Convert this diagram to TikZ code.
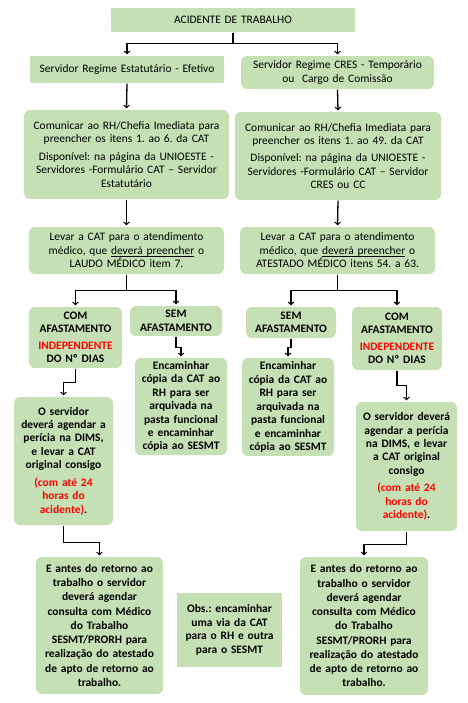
\documentclass[tikz,border=0pt]{standalone}
\usepackage{fontspec}
\setmainfont{Carlito}
\usetikzlibrary{arrows}
\definecolor{verde}{HTML}{C5E0B4}
\definecolor{vermelho}{HTML}{FF0000}
\frenchspacing
\newcommand\sublinha[1]{\setbox0\hbox{#1}\rlap{\rule[-1.8bp]{\wd0}{0.7bp}}\box0\relax}

\begin{document}
\begin{tikzpicture}[x=1bp, y=-1bp, >=to, line width=1.3bp, shorten >=1pt,
    caixa/.style={fill=verde, rounded corners=6bp, align=center, inner sep=2bp,
      font=\fontsize{11.5}{13.5}\selectfont},
    reta/.style={caixa, rounded corners=1bp},
    negrito/.style={caixa, font=\fontsize{11.5}{13.5}\selectfont\bfseries}]

    \useasboundingbox (0,0) rectangle (468,703);

    %define the boxes at the top
    \node[reta, text width=240bp, minimum height=24bp] (acidente) at (233,20) {ACIDENTE DE TRABALHO};
    \node[reta, text width=190bp, minimum height=27bp] (estat) at (127,69.5) {Servidor Regime Estatutário - Efetivo};
    \node[caixa, text width=189bp, minimum height=33bp] (cres) at (337.5,72.5) {Servidor Regime CRES - Temporário\\ ou\ \ Cargo de Comissão};

    %comunicar and levar
    \node[caixa, text width=201bp, minimum height=89bp] (comE) at (126.5,154.5)
      {Comunicar ao RH/Chefia Imediata para\\ preencher os itens 1. ao 6. da CAT\\[4bp]
       Disponível: na página da UNIOESTE -\\ Servidores -Formulário CAT -- Servidor\\ Estatutário};
    \node[caixa, text width=202bp, minimum height=88bp] (comC) at (338,156)
      {Comunicar ao RH/Chefia Imediata para\\ preencher os itens 1. ao 49. da CAT\\[4bp]
       Disponível: na página da UNIOESTE -\\ Servidores -Formulário CAT -- Servidor\\ CRES ou CC};
    \node[caixa, text width=191bp, minimum height=47bp] (levE) at (126.5,250.5)
      {Levar a CAT para o atendimento\\ médico, que \sublinha{deverá preencher} o\\ LAUDO MÉDICO item 7.};
    \node[caixa, text width=191bp, minimum height=47bp] (levC) at (337.5,250.5)
      {Levar a CAT para o atendimento\\ médico, que \sublinha{deverá preencher} o\\ ATESTADO MÉDICO itens 54. a 63.};

    %left branch
    \node[negrito, text width=89bp, minimum height=61bp] (comAfE) at (75.5,337.5)
      {COM\\ AFASTAMENTO\\[3bp] \textcolor{vermelho}{INDEPENDENTE}\\ DO Nº DIAS};
    \node[negrito, text width=88bp, minimum height=30bp] (semAfE) at (176,321) {SEM\\ AFASTAMENTO};
    \node[negrito, text width=88bp, minimum height=97bp] (encE) at (181,406.5)
      {Encaminhar\\ cópia da CAT ao\\ RH para ser\\ arquivada na\\ pasta funcional\\ e encaminhar\\ cópia ao SESMT};
    \node[negrito, text width=95bp, minimum height=128bp] (servE) at (63.5,461)
      {O servidor\\ deverá agendar a\\ perícia na DIMS,\\ e levar a CAT\\ original consigo\\[4bp]
       \textcolor{vermelho}{(com até 24}\\ \textcolor{vermelho}{horas do}\\ \textcolor{vermelho}{acidente)}.};
    \node[negrito, font=\fontsize{11.5}{14.3}\selectfont\bfseries, text width=123bp, minimum height=137bp] (antesE) at (99.5,625.5)
      {E antes do retorno ao\\ trabalho o servidor\\ deverá agendar\\ consulta com Médico\\ do Trabalho\\ SESMT/PRORH para\\ realização do atestado\\ de apto de retorno ao\\ trabalho.};

    %right branch
    \node[negrito, text width=86bp, minimum height=31bp] (semAfC) at (291,322.5) {SEM\\ AFASTAMENTO};
    \node[negrito, text width=88bp, minimum height=98bp] (encC) at (288,407)
      {Encaminhar\\ cópia da CAT ao\\ RH para ser\\ arquivada na\\ pasta funcional\\ e encaminhar\\ cópia ao SESMT};
    \node[negrito, text width=86bp, minimum height=63bp] (comAfC) at (397,338.5)
      {COM\\ AFASTAMENTO\\[3bp] \textcolor{vermelho}{INDEPENDENTE}\\ DO Nº DIAS};
    \node[negrito, text width=97bp, minimum height=129bp] (servC) at (406.5,466.5)
      {O servidor deverá\\ agendar a perícia\\ na DIMS, e levar\\ a CAT original\\ consigo\\[4bp]
       \textcolor{vermelho}{(com até 24}\\ \textcolor{vermelho}{horas do}\\ \textcolor{vermelho}{acidente)}.};
    \node[negrito, font=\fontsize{11.5}{14.3}\selectfont\bfseries, text width=124bp, minimum height=138bp] (antesC) at (364,626)
      {E antes do retorno ao\\ trabalho o servidor\\ deverá agendar\\ consulta com Médico\\ do Trabalho\\ SESMT/PRORH para\\ realização do atestado\\ de apto de retorno ao\\ trabalho.};

    %the note
    \node[reta, rounded corners=0bp, font=\fontsize{11.5}{13.5}\selectfont\bfseries, text width=101bp, minimum height=74bp] (obs) at (229.5,630)
      {Obs.: encaminhar\\ uma via da CAT\\ para o RH e outra\\ para o SESMT};

    %define the links
    \draw[->] (acidente.south) -- ++(0,11) -| (estat.north);
    \draw[->] (acidente.south) -- ++(0,11) -| (cres.north);
    \draw[->] (estat.south) -- (comE.north);
    \draw[->] (cres.south) -- (comC.north);
    \draw[->] (comE.south) -- (levE.north);
    \draw[->] (comC.south) -- (levC.north);
    \draw[->] (levE.south) -- ++(0,16) -| (comAfE.north);
    \draw[->] (levE.south) -- ++(0,16) -| (semAfE.north);
    \draw[->] (levC.south) -- ++(0,16) -| (semAfC.north);
    \draw[->] (levC.south) -- ++(0,16) -| (comAfC.north);
    \draw[->] (comAfE.south) -- ++(0,14) -| (servE.north);
    \draw[->] (semAfE.south) -- ++(0,11) -| (encE.north);
    \draw[->] (semAfC.south) -- ++(0,9) -| (encC.north);
    \draw[->] (comAfC.south) -- ++(0,15) -| (servC.north);
    \draw[->] (servE.south) -- ++(0,17) -| (antesE.north);
    \draw[->] (servC.south) -- ++(0,13) -| (antesC.north);
\end{tikzpicture}
\end{document}
